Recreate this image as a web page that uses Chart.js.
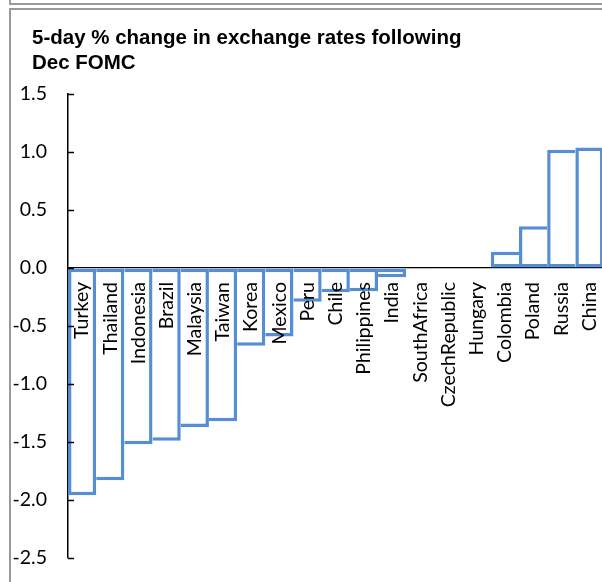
<!DOCTYPE html>
<html>
<head>
<meta charset="utf-8">
<script src="https://cdn.jsdelivr.net/npm/chart.js@4.4.1/dist/chart.umd.min.js"></script>
<style>
  html, body { margin: 0; padding: 0; overflow: hidden; background: #fff; }
  #wrap { position: relative; width: 602px; height: 582px; overflow: hidden; }
  #chart { position: absolute; left: 0; top: 0; }
  .frame { position: absolute; border: 0 solid #9a9a9a; pointer-events: none; }
</style>
</head>
<body>
<div id="wrap">
  <canvas id="chart" width="627" height="582"></canvas>
  <div class="frame" style="left:9px; top:-9px; width:700px; height:12px; border-left-width:2px; border-bottom-width:2px;"></div>
  <div class="frame" style="left:9px; top:8px; width:700px; height:700px; border-left-width:2px; border-top-width:2px;"></div>
</div>
<script>
"use strict";

// chart data
let countries = ["Turkey", "Thailand", "Indonesia", "Brazil", "Malaysia", "Taiwan",
  "Korea", "Mexico", "Peru", "Chile", "Philippines", "India", "SouthAfrica",
  "CzechRepublic", "Hungary", "Colombia", "Poland", "Russia", "China"];
let changes = [-1.96, -1.83, -1.52, -1.49, -1.37, -1.32, -0.67, -0.59, -0.29,
  -0.21, -0.20, -0.08, -0.01, 0, 0, 0.14, 0.36, 1.02, 1.04];
let yTicks = [-2.5, -2.0, -1.5, -1.0, -0.5, 0.0, 0.5, 1.0, 1.5];

const blue = "#558ED5";
const labelFont = { family: "Lato", size: 19.5 };
const bw = 3.5;

// bars touch each other, so only draw the shared side once
function barBorders(ctx) {
  let i = ctx.dataIndex;
  let v = changes[i];
  if (v < 0) {
    return { top: bw, bottom: bw, right: bw, left: i === 0 ? bw : 0 };
  }
  return { top: bw, bottom: bw, left: bw, right: i === changes.length - 1 ? bw : 0 };
}

// title starts left of the y axis labels' clip box
const titleLeft = {
  id: "titleLeft",
  afterLayout(chart) {
    chart.titleBlock.left = 32;
  }
};

// small tick marks on the inside of the y axis
const innerTicks = {
  id: "innerTicks",
  afterDraw(chart) {
    let y = chart.scales.y;
    let c = chart.ctx;
    c.save();
    c.strokeStyle = "#000";
    c.lineWidth = 1.5;
    for (const t of yTicks) {
      let py = Math.round(y.getPixelForValue(t)) + 0.5;
      c.beginPath();
      c.moveTo(chart.chartArea.left, py);
      c.lineTo(chart.chartArea.left + 6, py);
      c.stroke();
    }
    c.restore();
  }
};

new Chart(document.getElementById("chart"), {
  type: "bar",
  data: {
    labels: countries,
    datasets: [{
      data: changes,
      backgroundColor: "#fff",
      borderColor: blue,
      borderWidth: barBorders,
      borderSkipped: false,
      inflateAmount: 0,
      categoryPercentage: 1,
      barPercentage: 1
    }]
  },
  options: {
    responsive: false,
    animation: false,
    layout: { padding: { top: 26, left: 10, right: 6, bottom: 24 } },
    plugins: {
      legend: { display: false },
      tooltip: { enabled: false },
      title: {
        display: true,
        text: ["5-day % change in exchange rates following", "Dec FOMC"],
        align: "start",
        color: "#000",
        font: { family: "Liberation Sans", weight: "bold", size: 20.5, lineHeight: 1.22 },
        padding: { top: 0, bottom: 18 }
      }
    },
    scales: {
      x: {
        position: { y: 0 },
        grid: { display: false, drawTicks: false },
        border: { display: false },
        ticks: {
          z: 1,
          color: "#000",
          font: labelFont,
          autoSkip: false,
          maxRotation: 90,
          minRotation: 90,
          padding: 14
        }
      },
      y: {
        min: -2.5,
        max: 1.5,
        grid: {
          drawTicks: false,
          lineWidth: 1.25,
          color: ctx => (ctx.tick && ctx.tick.value === 0 ? "#000" : "rgba(0,0,0,0)")
        },
        border: { display: true, color: "#000", width: 1.5 },
        afterFit: function (scale) {
          scale.width = 58;
          // tick padding is horizontal here, don't let it eat vertical room
          scale.paddingTop = 10;
          scale.paddingBottom = 10;
        },
        afterBuildTicks: function (scale) {
          scale.ticks = yTicks.map(v => ({ value: v }));
        },
        ticks: {
          color: "#000",
          font: labelFont,
          padding: 21,
          callback: v => Number(v).toFixed(1)
        }
      }
    }
  },
  plugins: [titleLeft, innerTicks]
});
</script>
</body>
</html>
